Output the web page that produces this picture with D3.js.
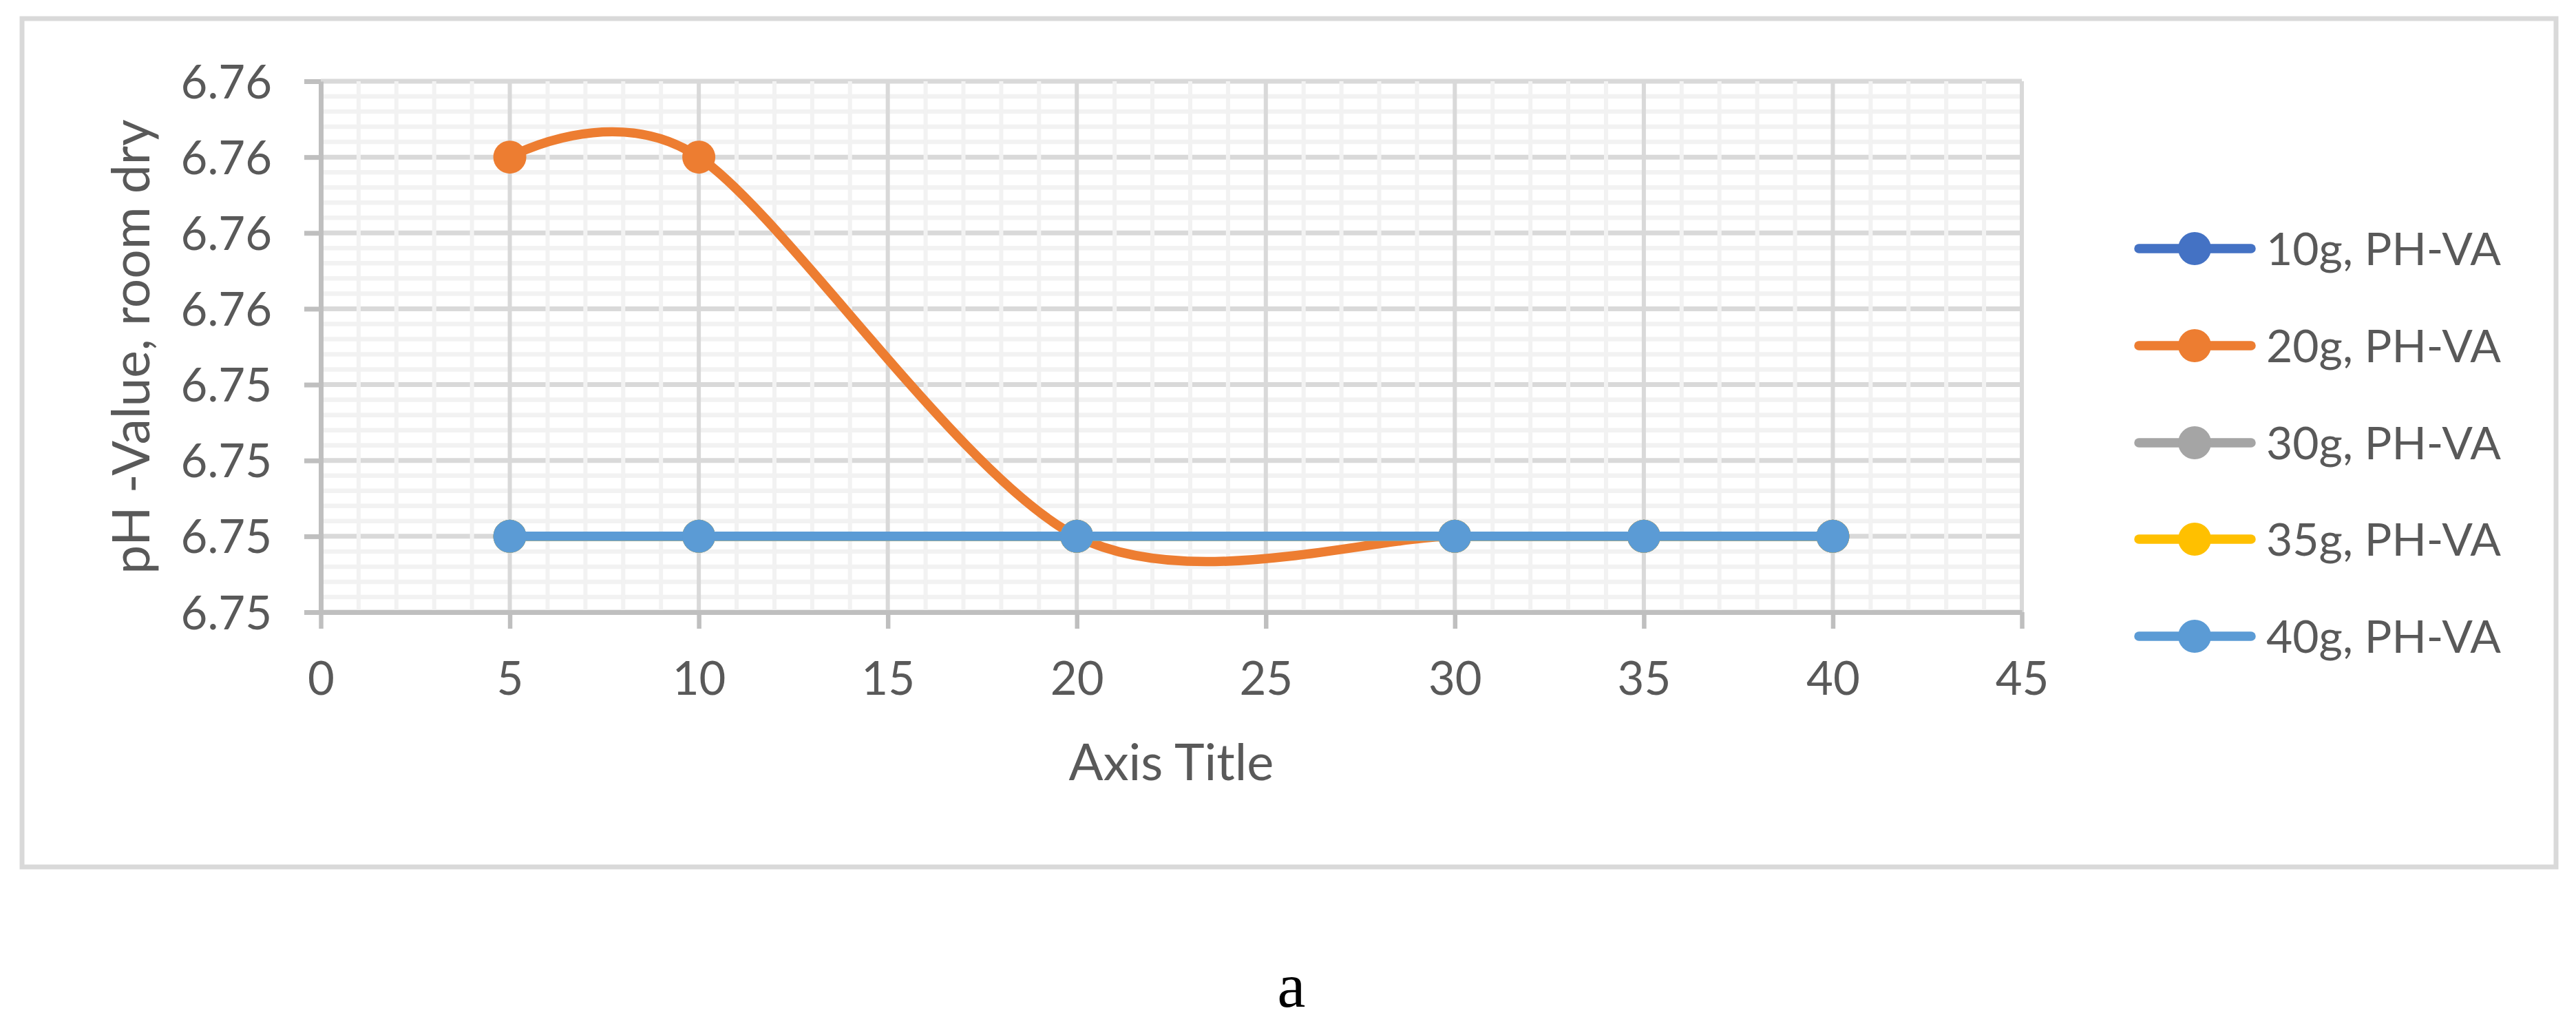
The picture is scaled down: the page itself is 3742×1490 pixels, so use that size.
<!DOCTYPE html>
<html>
<head>
<meta charset="utf-8">
<script src="https://cdn.jsdelivr.net/npm/d3@7"></script>
<style>
  html, body { margin: 0; padding: 0; background: #ffffff; }
  svg { display: block; }
</style>
</head>
<body>
<svg id="chart" width="3742" height="1490"></svg>
<script>
// ---------------- data ----------------
const xValues = [5, 10, 20, 30, 35, 40];
const seriesNames = ["10g, PH-VA", "20g, PH-VA", "30g, PH-VA", "35g, PH-VA", "40g, PH-VA"];
const seriesColors = ["#4472c4", "#ed7d31", "#a5a5a5", "#ffc000", "#5b9bd5"];
const values10g = [6.7535, 6.7535, 6.7535, 6.7535, 6.7535, 6.7535];
const values20g = [6.7560, 6.7560, 6.7535, 6.7535, 6.7535, 6.7535];
const values30g = [6.7535, 6.7535, 6.7535, 6.7535, 6.7535, 6.7535];
const values35g = [6.7535, 6.7535, 6.7535, 6.7535, 6.7535, 6.7535];
const values40g = [6.7535, 6.7535, 6.7535, 6.7535, 6.7535, 6.7535];
const seriesValues = [values10g, values20g, values30g, values35g, values40g];

const xTickValues = [0, 5, 10, 15, 20, 25, 30, 35, 40, 45];
const yTickValues = [6.7530, 6.7535, 6.7540, 6.7545, 6.7550, 6.7555, 6.7560, 6.7565];
const yTickLabels = ["6.75", "6.75", "6.75", "6.75", "6.76", "6.76", "6.76", "6.76"];
const xAxisTitle = "Axis Title";
const yAxisTitle = "pH -Value, room dry";
const caption = "a";

// ---------------- layout ----------------
const sansFont = "Lato, 'Open Sans', sans-serif";
const svg = d3.select("#chart");
const plot = { left: 466, right: 2937, top: 118, bottom: 889 };
const textColor = "#595959";

const x = d3.scaleLinear().domain([0, 45]).range([plot.left, plot.right]);
const y = d3.scaleLinear().domain([6.7530, 6.7565]).range([plot.bottom, plot.top]);

svg.append("rect").attr("x", 0).attr("y", 0).attr("width", 3742).attr("height", 1490).attr("fill", "#fff");

// outer chart border
svg.append("rect")
  .attr("x", 32).attr("y", 27).attr("width", 3713 - 32).attr("height", 1259 - 27)
  .attr("fill", "none").attr("stroke", "#d9d9d9").attr("stroke-width", 7);

// gridlines
const grid = svg.append("g");
const yMinor = d3.range(0, 36).map(i => 6.7530 + i * 0.0001).filter((v, i) => i % 5 !== 0);
const xMinor = d3.range(0, 46).filter(v => v % 5 !== 0);

grid.selectAll(".hmin").data(yMinor).join("line")
  .attr("x1", plot.left).attr("x2", plot.right)
  .attr("y1", d => y(d)).attr("y2", d => y(d))
  .attr("stroke", "#f2f2f2").attr("stroke-width", 6.5);
grid.selectAll(".hmaj").data(yTickValues).join("line")
  .attr("x1", plot.left).attr("x2", plot.right)
  .attr("y1", d => y(d)).attr("y2", d => y(d))
  .attr("stroke", "#d9d9d9").attr("stroke-width", 7);
grid.selectAll(".vmin").data(xMinor).join("line")
  .attr("x1", d => x(d)).attr("x2", d => x(d))
  .attr("y1", plot.top).attr("y2", plot.bottom)
  .attr("stroke", "#f2f2f2").attr("stroke-width", 6);
grid.selectAll(".vmaj").data(xTickValues.slice(1)).join("line")
  .attr("x1", d => x(d)).attr("x2", d => x(d))
  .attr("y1", plot.top).attr("y2", plot.bottom)
  .attr("stroke", "#d9d9d9").attr("stroke-width", 6);

// axes
const yAxis = d3.axisLeft(y).tickValues(yTickValues)
  .tickFormat((d, i) => yTickLabels[i]).tickSizeInner(24).tickSizeOuter(0).tickPadding(47);
const gy = svg.append("g").attr("transform", `translate(${plot.left},0)`).call(yAxis);
gy.select(".domain").attr("stroke", "#bfbfbf").attr("stroke-width", 7);
gy.selectAll(".tick line").attr("stroke", "#bfbfbf").attr("stroke-width", 7);
gy.selectAll(".tick text").attr("fill", textColor).attr("font-size", 67)
  .attr("font-family", sansFont).attr("dy", "0.36em");

const xAxis = d3.axisBottom(x).tickValues(xTickValues).tickFormat(d => String(d))
  .tickSizeInner(24).tickSizeOuter(0).tickPadding(48);
const gx = svg.append("g").attr("transform", `translate(0,${plot.bottom})`).call(xAxis);
gx.select(".domain").attr("stroke", "#bfbfbf").attr("stroke-width", 7);
gx.selectAll(".tick line").attr("stroke", "#bfbfbf").attr("stroke-width", 6.5);
gx.selectAll(".tick text").attr("fill", textColor).attr("font-size", 67)
  .attr("font-family", sansFont).attr("dy", "0.71em");

// series
const line = d3.line().x(d => x(d[0])).y(d => y(d[1])).curve(d3.curveCardinal.tension(0.1));
const series = svg.append("g");
seriesValues.forEach((vals, si) => {
  const pts = xValues.map((xv, i) => [xv, vals[i]]);
  const g = series.append("g");
  g.append("path").attr("d", line(pts)).attr("fill", "none")
    .attr("stroke", seriesColors[si]).attr("stroke-width", 13.5)
    .attr("stroke-linecap", "round").attr("stroke-linejoin", "round");
  g.selectAll("circle").data(pts).join("circle")
    .attr("cx", d => x(d[0])).attr("cy", d => y(d[1])).attr("r", 24)
    .attr("fill", seriesColors[si]);
});

// axis titles
svg.append("text").text(xAxisTitle)
  .attr("x", (plot.left + plot.right) / 2).attr("y", 1133)
  .attr("text-anchor", "middle").attr("font-family", sansFont)
  .attr("font-size", 74).attr("fill", textColor);
svg.append("text").text(yAxisTitle)
  .attr("transform", `translate(217,${(plot.top + plot.bottom) / 2}) rotate(-90)`)
  .attr("text-anchor", "middle").attr("font-family", sansFont)
  .attr("font-size", 75).attr("fill", textColor);

// legend
const legendY = [361, 502, 643, 783, 924];
const legend = svg.append("g");
seriesNames.forEach((name, i) => {
  const g = legend.append("g").attr("transform", `translate(0,${legendY[i]})`);
  g.append("line").attr("x1", 3107).attr("x2", 3270).attr("y1", 0).attr("y2", 0)
    .attr("stroke", seriesColors[i]).attr("stroke-width", 13.5).attr("stroke-linecap", "round");
  g.append("circle").attr("cx", 3188).attr("cy", 0).attr("r", 24).attr("fill", seriesColors[i]);
  g.append("text").text(name).attr("x", 3292).attr("y", 24)
    .attr("font-family", sansFont).attr("font-size", 66).attr("fill", textColor);
});

// caption
svg.append("text").text(caption)
  .attr("x", 1876).attr("y", 1462).attr("text-anchor", "middle")
  .attr("font-family", "'Liberation Serif', 'Times New Roman', serif")
  .attr("font-size", 92).attr("fill", "#000");
</script>
</body>
</html>
